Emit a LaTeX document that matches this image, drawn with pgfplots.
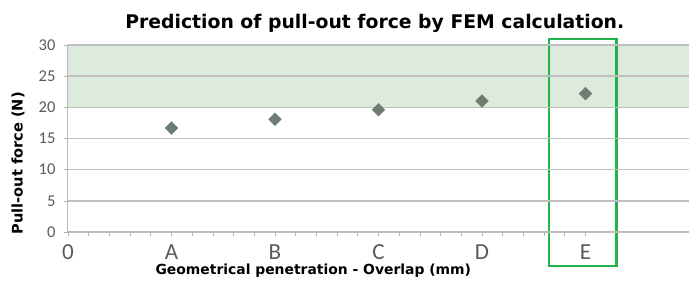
\documentclass[border=0pt]{standalone}
\usepackage{pgfplots}
\pgfplotsset{compat=1.18}
\usepackage{fontspec}
\setmainfont{Carlito}
\newfontfamily\verd{DejaVu Sans}
\definecolor{band}{HTML}{DCEBDC}
\definecolor{frame}{HTML}{22B24C}
\definecolor{mk}{HTML}{6E7C72}
\definecolor{tl}{HTML}{5A5A5A}
\begin{document}
\begin{tikzpicture}[x=1pt,y=1pt]
\useasboundingbox (-68pt,-49pt) rectangle (621pt,232pt);
\begin{axis}[
  at={(0pt,0pt)}, anchor=origin,
  scale only axis, width=621pt, height=187pt,
  xmin=0, xmax=6, ymin=0, ymax=30,
  axis on top,
  clip=false,
  axis x line*=bottom, axis y line*=left,
  axis line style={-, draw=gray!55, line width=1pt},
  xtick={0,1,2,3,4,5},
  xticklabels={0,A,B,C,D,E},
  minor x tick num=4,
  ytick={0,5,10,15,20,25,30},
  ymajorgrids,
  major grid style={draw=gray!50, line width=1.6pt},
  tick align=outside,
  major tick length=4pt, minor tick length=4pt,
  tick style={draw=gray!60, line width=0.6pt},
  xticklabel style={font=\fontsize{23}{23}\selectfont, text=tl, yshift=-5pt},
  yticklabel style={font=\fontsize{16.5}{16.5}\selectfont, text=tl, xshift=-5pt},
  /pgf/number format/assume math mode=true,
  title={Prediction of pull-out force by FEM calculation.},
  title style={font=\verd\bfseries\fontsize{18.8}{18.8}\selectfont, at={(axis description cs:0.494,1.086)}, anchor=center},
  xlabel={Geometrical penetration - Overlap (mm)},
  xlabel style={font=\verd\bfseries\fontsize{13.9}{13.9}\selectfont, at={(axis description cs:0.395,-0.205)}, anchor=center},
  ylabel={Pull-out force (N)},
  ylabel style={font=\verd\bfseries\fontsize{14.6}{14.6}\selectfont, at={(axis description cs:-0.0805,0.367)}, anchor=center, rotate=0},
]
\addplot[fill=band, draw=none, forget plot] coordinates {(0,20) (6,20) (6,30) (0,30)} \closedcycle;
\addplot[only marks, mark=square*, mark size=4.5pt, mark options={rotate=45}, color=mk] coordinates {
  (1,16.7) (2,18.1) (3,19.6) (4,21.0) (5,22.2)
};
\draw[frame, line width=2.2pt] (axis cs:4.65,-5.45) rectangle (axis cs:5.30,30.95);
\end{axis}
\end{tikzpicture}
\end{document}
